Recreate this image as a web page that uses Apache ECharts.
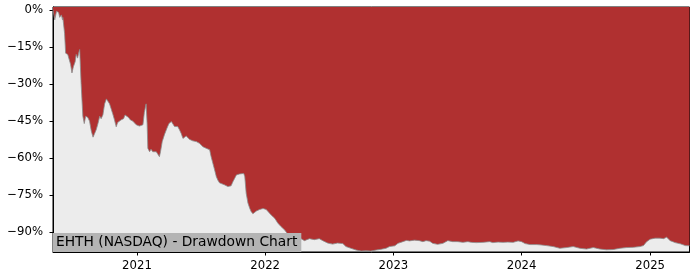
<!DOCTYPE html>
<html>
<head>
<meta charset="utf-8">
<script src="https://cdn.jsdelivr.net/npm/echarts@6/dist/echarts.min.js"></script>
<style>html,body{margin:0;padding:0;background:#fff}#c{width:700px;height:280px}</style>
</head>
<body>
<div id="c"></div>
<script>
const title = 'EHTH (NASDAQ) - Drawdown Chart';
const yearTicks = ['2021', '2022', '2023', '2024', '2025'];
const yTicks = [0, -15, -30, -45, -60, -75, -90];
const dates = [
'2020-05-07','2020-05-12','2020-05-17','2020-05-23','2020-05-26','2020-05-31','2020-06-03','2020-06-04','2020-06-09','2020-06-12',
'2020-06-18','2020-06-23','2020-06-26','2020-06-30','2020-07-04','2020-07-09','2020-07-12','2020-07-16','2020-07-19','2020-07-22',
'2020-07-26','2020-07-31','2020-08-04','2020-08-08','2020-08-14','2020-08-19','2020-08-24','2020-08-29','2020-09-02','2020-09-07',
'2020-09-12','2020-09-17','2020-09-21','2020-09-26','2020-10-01','2020-10-06','2020-10-10','2020-10-15','2020-10-20','2020-10-24',
'2020-10-29','2020-11-03','2020-11-07','2020-11-12','2020-11-17','2020-11-24','2020-11-28','2020-12-03','2020-12-08','2020-12-13',
'2020-12-20','2020-12-30','2021-01-08','2021-01-18','2021-01-22','2021-01-27','2021-01-30','2021-02-01','2021-02-06','2021-02-10',
'2021-02-15','2021-02-20','2021-02-25','2021-03-01','2021-03-06','2021-03-09','2021-03-14','2021-03-20','2021-03-27','2021-04-02',
'2021-04-09','2021-04-13','2021-04-18','2021-04-23','2021-04-27','2021-05-02','2021-05-07','2021-05-12','2021-05-16','2021-05-21',
'2021-05-26','2021-05-31','2021-06-05','2021-06-09','2021-06-19','2021-06-28','2021-07-08','2021-07-17','2021-07-27','2021-07-31',
'2021-08-05','2021-08-10','2021-08-15','2021-08-19','2021-08-24','2021-08-29','2021-09-07','2021-09-17','2021-09-22','2021-09-26',
'2021-10-01','2021-10-06','2021-10-11','2021-10-15','2021-10-20','2021-10-25','2021-11-01','2021-11-04','2021-11-08','2021-11-13',
'2021-11-18','2021-11-22','2021-11-27','2021-12-02','2021-12-07','2021-12-16','2021-12-26','2022-01-04','2022-01-09','2022-01-18',
'2022-01-28','2022-02-06','2022-02-15','2022-02-25','2022-03-06','2022-03-16','2022-03-25','2022-04-04','2022-04-13','2022-04-23',
'2022-05-07','2022-05-21','2022-06-04','2022-06-14','2022-06-28','2022-07-12','2022-07-26','2022-08-10','2022-08-19','2022-09-02',
'2022-09-17','2022-10-01','2022-10-15','2022-10-29','2022-11-13','2022-11-27','2022-12-11','2022-12-21','2023-01-05','2023-01-14',
'2023-01-28','2023-02-07','2023-02-16','2023-03-02','2023-03-16','2023-03-26','2023-04-04','2023-04-14','2023-04-23','2023-05-07',
'2023-05-22','2023-06-05','2023-06-19','2023-07-03','2023-07-18','2023-08-01','2023-08-11','2023-08-25','2023-09-13','2023-10-02',
'2023-10-11','2023-10-26','2023-11-09','2023-11-23','2023-12-08','2023-12-22','2024-01-01','2024-01-11','2024-01-25','2024-02-13',
'2024-02-22','2024-03-12','2024-03-31','2024-04-19','2024-05-08','2024-05-27','2024-06-15','2024-07-04','2024-07-23','2024-08-11',
'2024-08-30','2024-09-18','2024-10-07','2024-10-26','2024-11-14','2024-12-03','2024-12-13','2024-12-22','2025-01-01','2025-01-15',
'2025-01-29','2025-02-08','2025-02-17','2025-02-27','2025-03-13','2025-03-28','2025-04-11','2025-04-23'
];
const drawdown = [
0,-4,-0.5,-1,-3,-2,-4,-3,-9.5,-17.5,
-18,-18,-22,-25.5,-23,-21,-18,-19.5,-17.5,-16,
-29.7,-43,-46,-43,-43.5,-45,-49,-51.5,-51,-48.5,
-46,-43,-44,-42.5,-38,-36,-36.5,-38,-38.5,-42,
-44.5,-47.3,-45.6,-46,-44.5,-44,-42.5,-43,-43.5,-44.5,
-45,-46.5,-47,-46.5,-41.5,-38,-46,-56,-57.4,-56.4,
-57.4,-57,-57.4,-58,-59.4,-57.4,-53.3,-50.6,-48,-46,
-45.2,-46,-47.2,-48,-47.2,-48.5,-50,-52,-51.6,-51,
-51.3,-52.4,-52.6,-53,-53.3,-54,-55.4,-56,-56.6,-59.3,
-62,-64.7,-67.5,-68.8,-70,-70.2,-70.8,-71.5,-71.8,-71.2,
-69.6,-68.2,-66.8,-66.2,-66.4,-66.8,-66.2,-67.5,-74.2,-78.2,
-80.3,-81.6,-82.5,-82,-81.4,-80.8,-80.4,-80.8,-81.6,-83,
-84.3,-86.3,-87.7,-89,-90.7,-91.5,-91.8,-91.5,-92.6,-93.4,
-92.6,-93,-92.6,-93.4,-94.4,-94.8,-94.4,-94.6,-95.8,-96.5,
-97.2,-97.6,-97.5,-97.6,-97.2,-96.9,-96.5,-95.8,-95.5,-94.5,
-93.8,-93.3,-93.5,-93.2,-93.4,-93.8,-93.4,-93.6,-94.5,-94.9,
-94.5,-93.4,-93.8,-93.8,-94.1,-93.8,-94.1,-94.2,-94.1,-93.8,
-94.2,-94,-94.1,-94,-94.1,-93.5,-93.8,-94.6,-95,-95,
-95.1,-95.4,-95.8,-96.5,-96.2,-95.8,-96.5,-96.8,-96.2,-96.8,
-97.1,-97,-96.5,-96.2,-96.1,-95.8,-95.4,-93.8,-92.8,-92.4,
-92.4,-92.6,-92,-93.4,-94.2,-94.7,-95.4,-95.5
];
const xStart = '2020-05-07';
const xEnd = '2025-04-23';
const yMin = -98.0;
const yMax = 1.2;

function ts(s){ const p = s.split('-').map(Number); return Date.UTC(p[0], p[1]-1, p[2]); }
const seriesData = dates.map((d, i) => [ts(d), drawdown[i]]);
const yearVals = yearTicks.map(y => ts(y + '-01-01'));
const font = "'DejaVu Sans', sans-serif";

const chart = echarts.init(document.getElementById('c'), null, {renderer: 'canvas'});
chart.setOption({
  animation: false,
  title: {
    text: title,
    left: 53, top: 233,
    backgroundColor: '#b4b4b4',
    padding: [2, 4, 2, 3],
    textStyle: {fontFamily: font, fontSize: 13.8, fontWeight: 'normal', color: '#000', lineHeight: 15}
  },
  grid: {
    left: 53, right: 10.5, top: 7, bottom: 28,
    show: true, backgroundColor: '#ececec', borderColor: '#000', borderWidth: 1
  },
  xAxis: {
    type: 'value',
    min: ts(xStart), max: ts(xEnd),
    axisLine: {show: true, onZero: false, lineStyle: {color: '#000', width: 1}},
    axisTick: {show: true, length: 3.5, lineStyle: {color: '#000'}, customValues: yearVals},
    axisLabel: {
      customValues: yearVals, margin: 8,
      fontFamily: font, fontSize: 11.7, color: '#000',
      formatter: v => String(new Date(v).getUTCFullYear())
    },
    splitLine: {show: false}
  },
  yAxis: {
    type: 'value',
    min: yMin, max: yMax,
    axisLine: {show: true, onZero: false, lineStyle: {color: '#000', width: 1}},
    axisTick: {show: true, length: 3.5, lineStyle: {color: '#000'}, customValues: yTicks},
    axisLabel: {
      customValues: yTicks, margin: 10,
      fontFamily: font, fontSize: 11.7, color: '#000',
      formatter: v => (v < 0 ? '\u2212' + Math.abs(v) : String(v)) + '%'
    },
    splitLine: {show: false}
  },
  series: [{
    type: 'line',
    data: seriesData,
    showSymbol: false,
    symbol: 'none',
    lineStyle: {color: '#8c8c8c', width: 0.8},
    areaStyle: {origin: 'end', color: '#b03030', opacity: 1},
    z: 1
  }]
});
</script>
</body>
</html>
